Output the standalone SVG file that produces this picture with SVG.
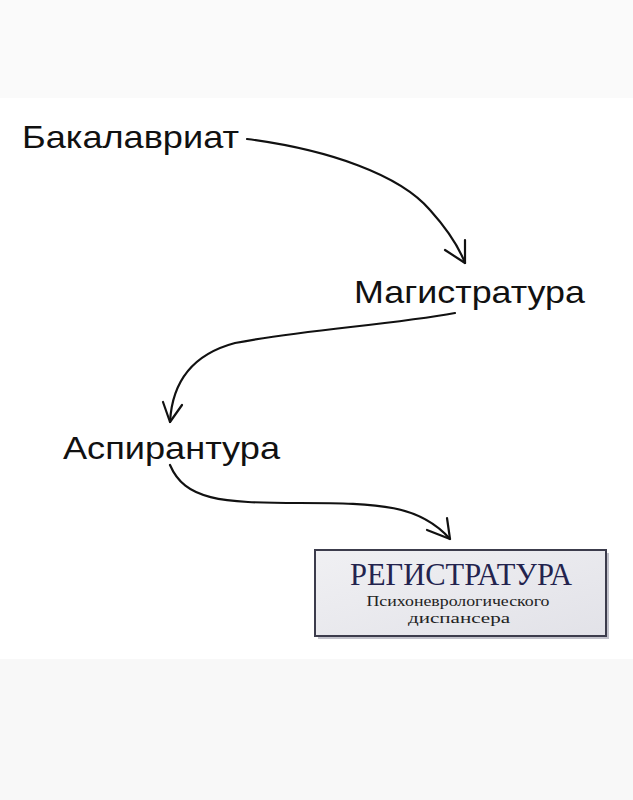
<svg xmlns="http://www.w3.org/2000/svg" width="633" height="800" viewBox="0 0 633 800">
<defs>
<style>
.lbl{font-family:"Liberation Sans",Arial,sans-serif;font-size:32px;fill:#111}
.arr{fill:none;stroke:#111;stroke-width:2.2;stroke-linecap:round;stroke-linejoin:round}
.ser{font-family:"Liberation Serif","Times New Roman",serif;text-anchor:middle}
</style>
<linearGradient id="bg" x1="0" y1="0" x2="1" y2="1">
<stop offset="0" stop-color="#f0f0f3"/>
<stop offset="1" stop-color="#e2e2e8"/>
</linearGradient>
</defs>
<rect width="633" height="800" fill="#ffffff"/>
<rect width="633" height="98" fill="#fafafa"/>
<rect y="659" width="633" height="141" fill="#f8f8f8"/>
<g id="n1"><text class="lbl" x="22" y="148" textLength="217" lengthAdjust="spacingAndGlyphs">Бакалавриат</text></g>
<g id="n2"><text class="lbl" x="354" y="303" textLength="231" lengthAdjust="spacingAndGlyphs">Магистратура</text></g>
<g id="n3"><text class="lbl" x="63" y="459" textLength="217" lengthAdjust="spacingAndGlyphs">Аспирантура</text></g>
<g id="n4">
<rect x="318" y="553" width="291" height="86" fill="#9a9aa8" opacity="0.6"/>
<rect x="315" y="550" width="291" height="86" fill="url(#bg)" stroke="#3c3c4c" stroke-width="2"/>
<text class="ser" x="461" y="585" font-size="31" fill="#23234e" textLength="222" lengthAdjust="spacingAndGlyphs">РЕГИСТРАТУРА</text>
<text class="ser" x="458" y="606" font-size="15" fill="#222" textLength="183" lengthAdjust="spacingAndGlyphs">Психоневрологического</text>
<text class="ser" x="459" y="623" font-size="15" fill="#222" textLength="102" lengthAdjust="spacingAndGlyphs">диспансера</text>
</g>
<g id="connectors">
<path class="arr" d="M247 139 C330 150 400 175 430 210 C448 230 458 245 465 263"/>
<path class="arr" d="M465 240 L465 263 L445 250"/>
<path class="arr" d="M455 313 C390 325 300 330 235 343 C190 355 172 385 170 422"/>
<path class="arr" d="M163 402 L170 422 L182 405"/>
<path class="arr" d="M170 465 C185 500 220 503 300 503 C380 503 420 505 450 539"/>
<path class="arr" d="M447 518 L450 539 L427 530"/>
</g>
</svg>
